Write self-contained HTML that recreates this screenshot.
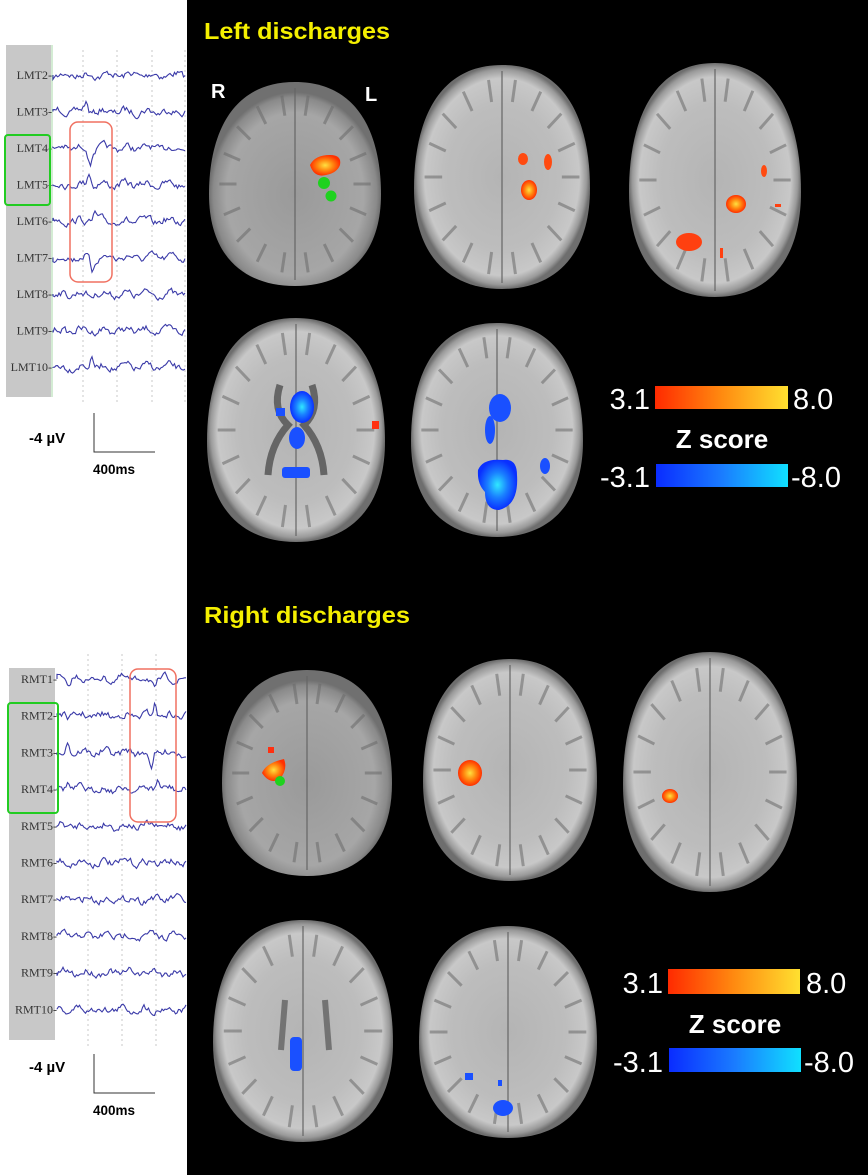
<!DOCTYPE html>
<html><head><meta charset="utf-8"><style>
html,body{margin:0;padding:0;width:868px;height:1175px;overflow:hidden;background:#fff}
svg{display:block}
</style></head><body>
<svg id="s" width="868" height="1175" viewBox="0 0 868 1175" xmlns="http://www.w3.org/2000/svg" font-family="Liberation Sans, sans-serif">
<defs>
<radialGradient id="bg" cx="50%" cy="50%" r="50%">
<stop offset="0" stop-color="#b4b4b4"/><stop offset="0.65" stop-color="#bdbdbd"/><stop offset="0.88" stop-color="#c8c8c8"/><stop offset="0.96" stop-color="#9a9a9a"/><stop offset="1" stop-color="#6e6e6e"/></radialGradient>
<radialGradient id="bg1" cx="50%" cy="55%" r="50%">
<stop offset="0" stop-color="#9a9a9a"/><stop offset="0.8" stop-color="#a6a6a6"/><stop offset="0.95" stop-color="#8a8a8a"/><stop offset="1" stop-color="#707070"/></radialGradient>
<linearGradient id="hot" x1="0" x2="1"><stop offset="0" stop-color="#ff2a00"/><stop offset="0.5" stop-color="#ff8a10"/><stop offset="1" stop-color="#ffe030"/></linearGradient>
<linearGradient id="cold" x1="0" x2="1"><stop offset="0" stop-color="#0a2cff"/><stop offset="0.5" stop-color="#1a7cff"/><stop offset="1" stop-color="#10e0ff"/></linearGradient>
<radialGradient id="hb"><stop offset="0" stop-color="#ffe040"/><stop offset="0.5" stop-color="#ff8a10"/><stop offset="1" stop-color="#ff3000"/></radialGradient>
<radialGradient id="cb"><stop offset="0" stop-color="#30e8ff"/><stop offset="0.5" stop-color="#1a80ff"/><stop offset="1" stop-color="#0a30ff"/></radialGradient>
</defs>
<rect x="187" y="0" width="681" height="1175" fill="#000"/>
<rect x="6" y="45" width="45" height="352" fill="#c8c8c8"/>
<line x1="52" y1="45" x2="52" y2="397" stroke="#a8d8a8" stroke-width="1"/>
<rect x="9" y="668" width="46" height="372" fill="#c8c8c8"/>
<g id="eeg"></g>
<rect x="5" y="135" width="45" height="70" rx="3" fill="none" stroke="#22cc22" stroke-width="2"/>
<rect x="70" y="122" width="42" height="160" rx="8" fill="none" stroke="#f07060" stroke-width="1.5"/>
<rect x="8" y="703" width="50" height="110" rx="3" fill="none" stroke="#22cc22" stroke-width="2"/>
<rect x="130" y="669" width="46" height="153" rx="8" fill="none" stroke="#f07060" stroke-width="1.5"/>
<g font-size="15" font-weight="bold" fill="#000">
<text x="29" y="443">-4 µV</text>
<path d="M94 413 V452 H155" fill="none" stroke="#333" stroke-width="1"/>
<text x="93" y="474" font-size="13.5">400ms</text>
<text x="29" y="1072">-4 µV</text>
<path d="M94 1054 V1093 H155" fill="none" stroke="#333" stroke-width="1"/>
<text x="93" y="1115" font-size="13.5">400ms</text>
</g>
<g font-weight="bold" font-size="23" fill="#f5f000">
<text x="204" y="39" textLength="186" lengthAdjust="spacingAndGlyphs">Left discharges</text>
<text x="204" y="623" textLength="206" lengthAdjust="spacingAndGlyphs">Right discharges</text>
</g>
<g fill="#fff" font-weight="bold" font-size="20"><text x="211" y="98">R</text><text x="365" y="101">L</text></g>
<g id="brains"></g>
<path d="M310 165 q5 -10 20 -10 q12 0 10 10 q-3 8 -14 10 q-12 3 -16 -10z" fill="url(#hb)"/>
<circle cx="324" cy="183" r="6" fill="#1ed21e"/><circle cx="331" cy="196" r="5.5" fill="#1ed21e"/>
<ellipse cx="523" cy="159" rx="5" ry="6" fill="#ff4a10"/>
<ellipse cx="548" cy="162" rx="4" ry="8" fill="#ff4a10"/>
<ellipse cx="529" cy="190" rx="8" ry="10" fill="url(#hb)"/>
<ellipse cx="764" cy="171" rx="3" ry="6" fill="#ff4a10"/>
<ellipse cx="736" cy="204" rx="10" ry="9" fill="url(#hb)"/>
<ellipse cx="689" cy="242" rx="13" ry="9" fill="#ff4010"/>
<rect x="720" y="248" width="3" height="10" fill="#ff4010"/>
<rect x="775" y="204" width="6" height="3" fill="#ff4010"/>
<ellipse cx="302" cy="407" rx="12" ry="16" fill="url(#cb)"/>
<ellipse cx="297" cy="438" rx="8" ry="11" fill="#1a50ff"/>
<rect x="276" y="408" width="9" height="8" fill="#1a50ff"/>
<rect x="282" y="467" width="28" height="11" rx="3" fill="#1a50ff"/>
<rect x="372" y="421" width="7" height="8" fill="#ff3010"/>
<ellipse cx="500" cy="408" rx="11" ry="14" fill="#1a50ff"/>
<ellipse cx="490" cy="430" rx="5" ry="14" fill="#1a50ff"/>
<path d="M478 470 q5 -12 25 -10 q14 -2 14 15 q2 30 -18 35 q-14 0 -14 -18 q-8 -8 -7 -22z" fill="url(#cb)"/>
<ellipse cx="545" cy="466" rx="5" ry="8" fill="#1a50ff"/>
<rect x="268" y="747" width="6" height="6" fill="#ff3010"/>
<path d="M262 773 q4 -10 22 -14 q4 10 -4 20 q-10 6 -18 -6z" fill="url(#hb)"/>
<circle cx="280" cy="781" r="5" fill="#1ed21e"/>
<ellipse cx="470" cy="773" rx="12" ry="13" fill="url(#hb)"/>
<ellipse cx="670" cy="796" rx="8" ry="7" fill="url(#hb)"/>
<rect x="290" y="1037" width="12" height="34" rx="4" fill="#1a50ff"/>
<rect x="465" y="1073" width="8" height="7" fill="#1a50ff"/>
<rect x="498" y="1080" width="4" height="6" fill="#1a50ff"/>
<ellipse cx="503" cy="1108" rx="10" ry="8" fill="#1a50ff"/>
<g fill="#fff" font-size="29">
<rect x="655" y="386" width="133" height="23" fill="url(#hot)"/>
<rect x="656" y="464" width="132" height="23" fill="url(#cold)"/>
<text x="650" y="409" text-anchor="end">3.1</text><text x="793" y="409">8.0</text>
<text x="650" y="487" text-anchor="end">-3.1</text><text x="791" y="487">-8.0</text>
<text x="722" y="448" text-anchor="middle" font-weight="bold" font-size="26">Z score</text>
<rect x="668" y="969" width="132" height="25" fill="url(#hot)"/>
<rect x="669" y="1048" width="132" height="24" fill="url(#cold)"/>
<text x="663" y="993" text-anchor="end">3.1</text><text x="806" y="993">8.0</text>
<text x="663" y="1072" text-anchor="end">-3.1</text><text x="804" y="1072">-8.0</text>
<text x="735" y="1033" text-anchor="middle" font-weight="bold" font-size="26">Z score</text>
</g>
</svg>
<script>
(function(){
var NS="http://www.w3.org/2000/svg",eeg=document.getElementById("eeg");
function el(t,a,p){var e=document.createElementNS(NS,t);for(var k in a)e.setAttribute(k,a[k]);(p||eeg).appendChild(e);return e;}
var seed=7;function r(){seed=(seed*16807)%2147483647;return seed/2147483647-0.5;}
function panel(names,y0,dy,xs,x1,gx,lblx,spikes){
 gx.forEach(function(x){el("line",{x1:x,y1:y0-25,x2:x,y2:y0+dy*names.length,stroke:"#bbb","stroke-dasharray":"2,3","stroke-width":0.8});});
 names.forEach(function(n,i){var y=y0+i*dy;
  el("text",{x:lblx,y:y+4,"font-family":"Liberation Serif, serif","font-size":12,fill:"#333","text-anchor":"end"}).textContent=n+"-";
  var d="M"+xs+" "+y,v=0,ph=r()*10;
  for(var x=xs;x<=x1;x+=1.5){v=v*0.55+r()*6;var s=Math.sin((x+ph)/3.5)*2;spikes.forEach(function(sp){if(sp[0]==i){var dd=x-sp[1];s+=sp[2]*Math.exp(-dd*dd/6);}});d+=" L"+x.toFixed(1)+" "+(y+v+s).toFixed(1);}
  el("path",{d:d,fill:"none",stroke:"#3a3aa8","stroke-width":1.1});
 });
}
panel(["LMT2","LMT3","LMT4","LMT5","LMT6","LMT7","LMT8","LMT9","LMT10"],75,36.5,53,186,[83,117,152,185],52,[[1,86,-9],[2,90,16],[3,89,-14],[4,95,-8],[5,92,13],[8,92,-10]]);
panel(["RMT1","RMT2","RMT3","RMT4","RMT5","RMT6","RMT7","RMT8","RMT9","RMT10"],679,36.7,57,187,[88,122,156],57,[[0,155,10],[1,155,-13],[2,151,16],[3,158,-11],[2,68,-12],[0,68,9],[3,68,-8]]);
var B=document.getElementById("brains");
function egg(cx,cy,rx,ry){var t=rx*0.8;return "M"+cx+" "+(cy-ry)+" C"+(cx+t)+" "+(cy-ry)+" "+(cx+rx)+" "+(cy-ry*0.4)+" "+(cx+rx)+" "+(cy+ry*0.1)+" C"+(cx+rx)+" "+(cy+ry*0.7)+" "+(cx+rx*0.6)+" "+(cy+ry)+" "+cx+" "+(cy+ry)+" C"+(cx-rx*0.6)+" "+(cy+ry)+" "+(cx-rx)+" "+(cy+ry*0.7)+" "+(cx-rx)+" "+(cy+ry*0.1)+" C"+(cx-rx)+" "+(cy-ry*0.4)+" "+(cx-t)+" "+(cy-ry)+" "+cx+" "+(cy-ry)+"Z";}
[[295,184,86,102,1],[502,177,88,112,0],[715,180,86,117,0],[296,430,89,112,0],[497,430,86,107,0],
 [307,773,85,103,1],[510,770,87,111,0],[710,772,87,120,0],[303,1031,90,111,0],[508,1032,89,106,0]].forEach(function(b,j){
 el("path",{d:egg(b[0],b[1],b[2],b[3]),fill:b[4]?"url(#bg1)":"url(#bg)"},B);
 el("line",{x1:b[0],y1:b[1]-b[3]+6,x2:b[0],y2:b[1]+b[3]-6,stroke:"#666","stroke-width":2,opacity:0.6},B);
 for(var k=0;k<18;k++){var a=k/18*Math.PI*2,rr=0.88;var x=b[0]+Math.cos(a)*b[2]*rr,y=b[1]+Math.sin(a)*b[3]*rr;
  el("line",{x1:x,y1:y,x2:b[0]+Math.cos(a)*b[2]*0.68,y2:b[1]+Math.sin(a)*b[3]*0.68,stroke:"#6a6a6a","stroke-width":3,opacity:0.55},B);}
 if(j==3){el("path",{d:"M280 385 q-8 25 8 40 q-18 20 -20 50 M312 385 q8 25 -8 40 q18 20 20 50",fill:"none",stroke:"#505050","stroke-width":7,opacity:0.8},B);}
 if(j==8){el("path",{d:"M285 1000 l-4 50 M325 1000 l4 50",fill:"none",stroke:"#555","stroke-width":6,opacity:0.7},B);}
});
})();
</script>
</body></html>
